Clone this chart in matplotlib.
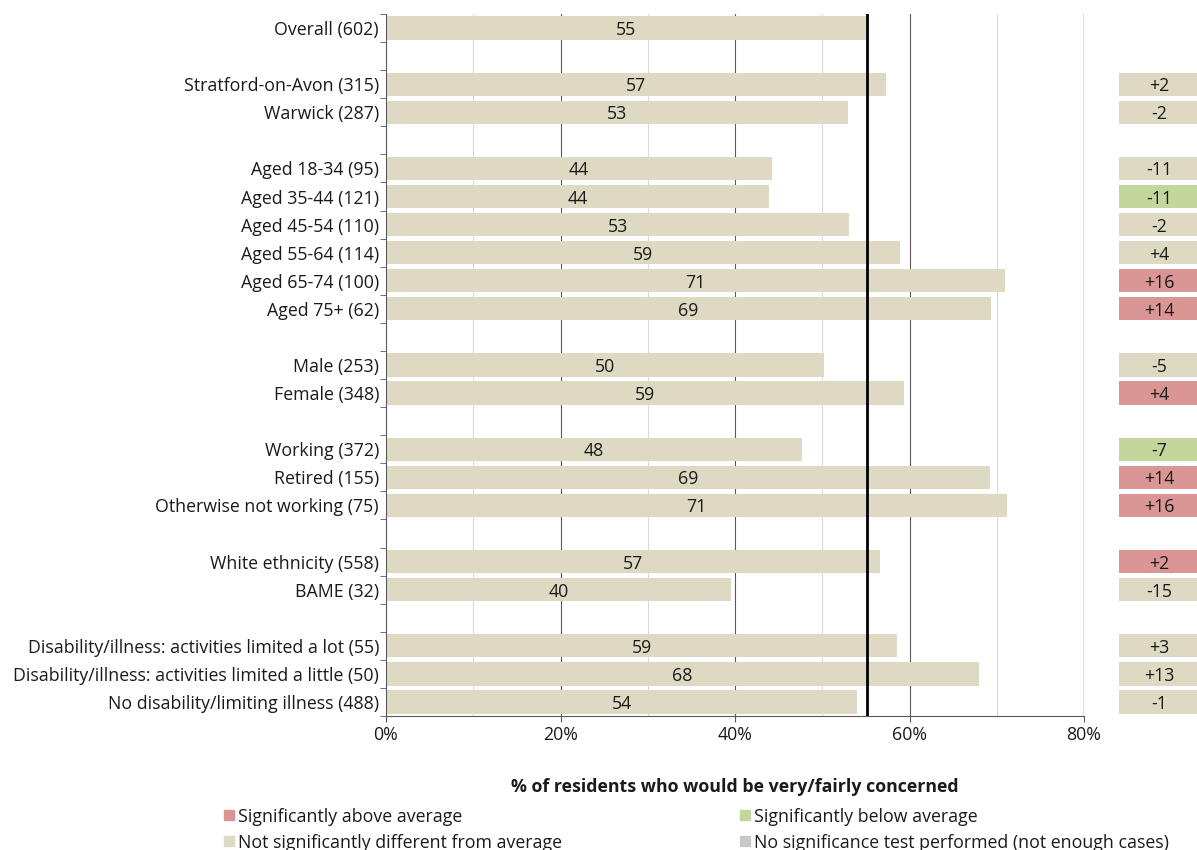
import numpy as np
import matplotlib.pyplot as plt
from matplotlib.patches import Rectangle

plt.rcParams['font.family'] = ['Open Sans', 'DejaVu Sans']

# data
labels = ['Overall (602)',
          'Stratford-on-Avon (315)', 'Warwick (287)',
          'Aged 18-34 (95)', 'Aged 35-44 (121)', 'Aged 45-54 (110)',
          'Aged 55-64 (114)', 'Aged 65-74 (100)', 'Aged 75+ (62)',
          'Male (253)', 'Female (348)',
          'Working (372)', 'Retired (155)', 'Otherwise not working (75)',
          'White ethnicity (558)', 'BAME (32)',
          'Disability/illness: activities limited a lot (55)',
          'Disability/illness: activities limited a little (50)',
          'No disability/limiting illness (488)']
group_sizes = [1, 2, 6, 2, 3, 2, 3]
values = [55.0, 57.3, 52.9, 44.2, 43.9, 53.1, 58.9, 70.9, 69.3,
          50.2, 59.4, 47.7, 69.2, 71.2, 56.6, 39.5, 58.6, 68.0, 54.0]
diffs = [None, '+2', '-2', '-11', '-11', '-2', '+4', '+16', '+14',
         '-5', '+4', '-7', '+14', '+16', '+2', '-15', '+3', '+13', '-1']
sig = ['ns', 'ns', 'ns', 'ns', 'below', 'ns', 'ns', 'above', 'above',
       'ns', 'above', 'below', 'above', 'above', 'above', 'ns', 'ns', 'ns', 'ns']
average = 55.1
xticks = [0, 20, 40, 60, 80]

colors = {'above': '#da9694', 'below': '#c3d69b', 'ns': '#ddd9c3', 'none': '#c8c8c8'}
legend_labels = {'above': 'Significantly above average',
                 'below': 'Significantly below average',
                 'ns': 'Not significantly different from average',
                 'none': 'No significance test performed (not enough cases)'}

# row positions with a blank row after each group
rows = []
r = 0
for g in group_sizes:
    rows += list(range(r, r + g))
    r += g + 1
rows = np.array(rows)
nrows = rows[-1] + 1

W, H = 1197, 850
FS = 12.8
fig = plt.figure(figsize=(W / 100, H / 100), dpi=100)

top = 1 - 14 / H
bot = 1 - 716 / H
ax = fig.add_axes([386 / W, bot, (1084 - 386) / W, top - bot])

# grid
for x in [10, 30, 50, 70]:
    ax.axvline(x, color='#d9d9d9', lw=0.8, zorder=0)
for x in [20, 40, 60]:
    ax.axvline(x, color='#595959', lw=0.8, zorder=0)
ax.axvline(80, color='#595959', lw=1.0, zorder=0)

ax.barh(rows, values, height=0.83, color=colors['ns'], zorder=2)
for y, v in zip(rows, values):
    ax.text(v / 2, y, '%d' % round(v), ha='center', va='center_baseline',
            fontsize=FS, color='#1a1a1a', zorder=3)

ax.axvline(average, color='black', lw=2, zorder=4)

ax.set_xlim(0, 80)
ax.set_ylim(nrows - 0.5, -0.5)
ax.set_xticks(xticks)
ax.set_xticklabels(['%d%%' % t for t in xticks], fontsize=FS, color='#1a1a1a')
ax.set_yticks(rows)
ax.set_yticklabels(labels, fontsize=FS, color='#1a1a1a', va='center_baseline')
ax.tick_params(axis='y', length=0, pad=5)
ax.set_yticks(np.arange(-0.5, nrows, 1), minor=True)
ax.tick_params(axis='y', which='minor', length=4, color='#595959')
ax.tick_params(axis='x', length=4, color='#595959', pad=3)
for s in ['top', 'right']:
    ax.spines[s].set_visible(False)
for s in ['left', 'bottom']:
    ax.spines[s].set_color('#595959')
ax.set_xlabel('% of residents who would be very/fairly concerned',
              fontsize=FS, fontweight='bold', labelpad=25, color='#1a1a1a')

# difference boxes
ax2 = fig.add_axes([1119 / W, bot, (1199 - 1119) / W, top - bot])
ax2.set_xlim(0, 1)
ax2.set_ylim(nrows - 0.5, -0.5)
ax2.axis('off')
for y, d, s in zip(rows, diffs, sig):
    if d is None:
        continue
    ax2.barh(y, 1, height=0.83, color=colors[s])
    ax2.text(0.5, y, d, ha='center', va='center_baseline', fontsize=FS,
             color='#1a1a1a')

# legend
legend_pos = [('above', 224, 815), ('below', 740, 815),
              ('ns', 224, 841), ('none', 740, 841)]
for key, px, py in legend_pos:
    fig.patches.append(Rectangle((px / W, 1 - (py + 5) / H), 10 / W, 10 / H,
                                 transform=fig.transFigure, color=colors[key]))
    fig.text((px + 14) / W, 1 - py / H, legend_labels[key], fontsize=FS,
             va='center_baseline', ha='left', color='#1a1a1a')

fig.savefig('out.png', dpi=100)
